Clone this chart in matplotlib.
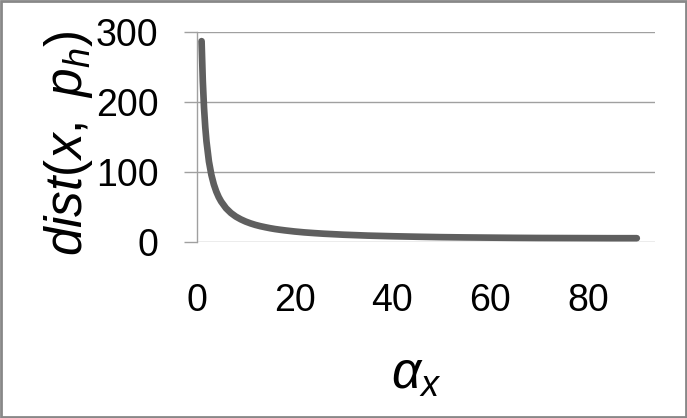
import numpy as np
import matplotlib
matplotlib.use("Agg")
import matplotlib.pyplot as plt
from matplotlib.patches import Rectangle

# values
alpha_x = [1, 1.25, 1.5, 1.75, 2, 2.5, 3, 3.5, 4, 4.5, 5, 6, 7, 8, 9, 10, 11, 12, 13,
           14, 15, 16, 17, 18, 19, 20, 22, 24, 26, 28, 30, 35, 40, 45, 50, 55, 60,
           65, 70, 75, 80, 85, 90]
dist = [286.5, 229.2, 191.0, 163.8, 143.3, 114.6, 95.5, 81.9, 71.7, 63.7, 57.4,
        47.8, 41.0, 35.9, 32.0, 28.8, 26.2, 24.0, 22.2, 20.7, 19.3, 18.1, 17.1,
        16.2, 15.4, 14.6, 13.3, 12.3, 11.4, 10.7, 10.0, 8.7, 7.8, 7.1, 6.5, 6.1,
        5.8, 5.5, 5.3, 5.2, 5.1, 5.0, 5.0]
x_ticks = [0, 20, 40, 60, 80]
y_ticks = [0, 100, 200, 300]

plt.rcParams['font.family'] = ['Liberation Sans', 'DejaVu Sans']
plt.rcParams['mathtext.fontset'] = 'custom'
plt.rcParams['mathtext.rm'] = 'Liberation Sans'
plt.rcParams['mathtext.it'] = 'Liberation Sans:italic'

W, H = 687, 418
fig = plt.figure(figsize=(W / 100, H / 100), dpi=100)

# plot area in pixels
left, right, top, bottom = 196.7, 655, 31.7, 241.7
ax = fig.add_axes([left / W, 1 - bottom / H, (right - left) / W, (bottom - top) / H])

grid_col = '#a0a0a0'
ax.plot(alpha_x, dist, color='#5f5f5f', lw=4.8, solid_capstyle='round',
        solid_joinstyle='round', zorder=3)

ax.set_xlim(0, (right - left) / 4.89)
ax.set_ylim(0, 300)
ax.set_xticks(x_ticks)
ax.set_yticks(y_ticks)
ax.yaxis.grid(True, color=grid_col, lw=1.0)
ax.set_axisbelow(True)

for s in ['top', 'right', 'bottom']:
    ax.spines[s].set_visible(False)
ax.spines['left'].set_color(grid_col)
ax.spines['left'].set_linewidth(1.0)

ax.tick_params(axis='y', length=9.4, width=1.0, color=grid_col, pad=18, labelsize=27)
ax.tick_params(axis='x', length=0, pad=30, labelsize=27)

ax.text(-0.28, 0.47, r'$dist(x,\ p_h)$', transform=ax.transAxes, rotation=90,
        ha='center', va='center', fontsize=37, rotation_mode='anchor')
ax.text(0.478, -0.635, r'$\alpha_x$', transform=ax.transAxes,
        ha='center', va='center', fontsize=37)

# chart border
fig.patches.append(Rectangle((0.002, 0.003), 0.996, 0.994, transform=fig.transFigure,
                             fill=False, edgecolor='#888888', lw=2.0))

fig.savefig('out.png', dpi=100)
